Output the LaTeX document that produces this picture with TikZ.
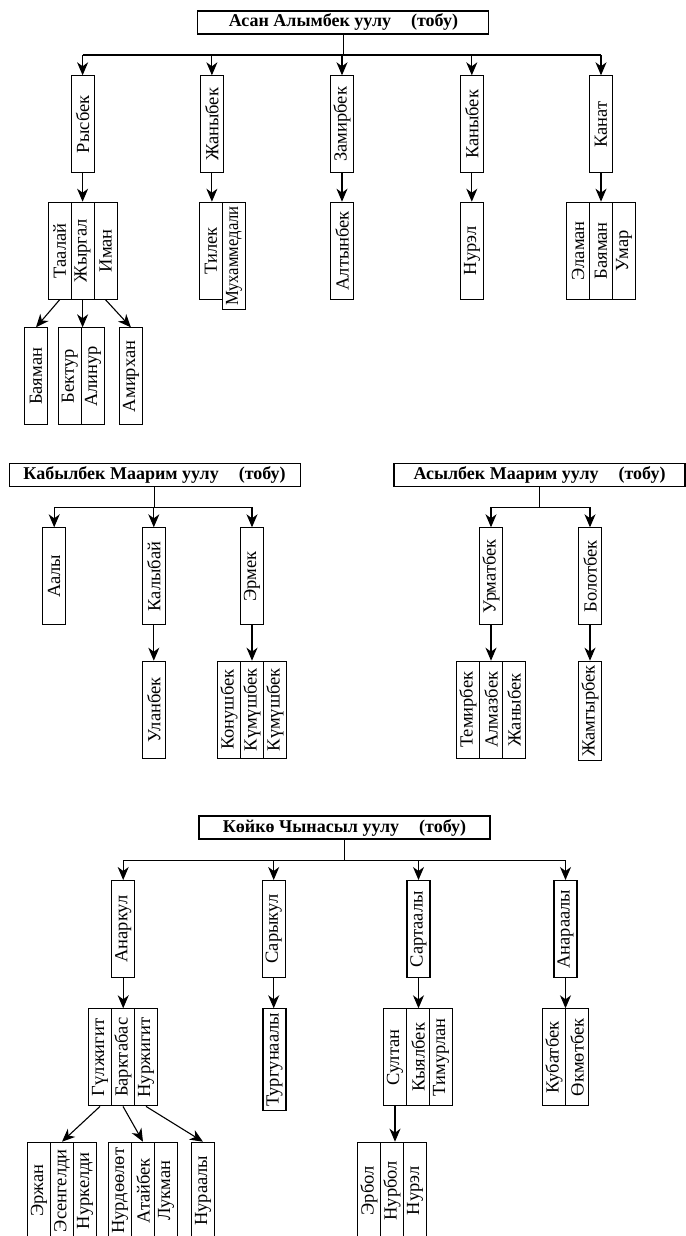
\documentclass[tikz,border=0pt]{standalone}
\usepackage{fontspec}
\setmainfont{Liberation Serif}
\usetikzlibrary{arrows.meta}
\tikzset{
  hdr/.style={draw, line width=1.1pt, minimum width=291pt, minimum height=23pt, inner sep=0pt, font=\bfseries\fontsize{18}{18}\selectfont},
  vb/.style={draw, line width=1.1pt, rotate=90, anchor=east, minimum width=97pt, minimum height=23pt, inner xsep=4pt, inner ysep=0pt, font=\fontsize{18.5}{18.5}\selectfont},
  arr/.style={line width=1.1pt, -{Stealth[length=13pt,width=11pt,inset=4pt]}},
  ln/.style={line width=1.1pt}
}
\begin{document}
\begin{tikzpicture}[x=1pt,y=-1pt]
\useasboundingbox (0,0) rectangle (685,1236);
% ---------- Section 1 ----------
\node[hdr] (h1) at (343.4,22.5) {Асан Алымбек уулу\hspace{20pt}(тобу)};
\node[vb] (rysbek) at (82.6,75.3) {Рысбек};
\node[vb] (zhanybek) at (211.9,75.3) {Жаныбек};
\node[vb] (zamirbek) at (342,75.3) {Замирбек};
\node[vb] (kanybek) at (471.8,75.3) {Каныбек};
\node[vb] (kanat) at (601,75.3) {Канат};
\node[vb] (taalai) at (59.6,201.7) {Таалай};
\node[vb] (zhyrgal) at (82.6,201.7) {Жыргал};
\node[vb] (iman) at (105.6,201.7) {Иман};
\node[vb] (tilek) at (211,201.7) {Тилек};
\node[vb] (mukh) at (234,201.7) {\scalebox{0.9}[1]{Мухаммедали}};
\node[vb] (altynbek) at (342,201.7) {Алтынбек};
\node[vb] (nurel1) at (472,201.7) {Нурэл};
\node[vb] (elaman) at (578,201.7) {Эламан};
\node[vb] (bayaman2) at (601,201.7) {Баяман};
\node[vb] (umar) at (624,201.7) {Умар};
\node[vb] (bayaman) at (36,327.3) {Баяман};
\node[vb] (bektur) at (69.9,327.3) {Бектур};
\node[vb] (alinur) at (92.9,327.3) {Алинур};
\node[vb] (amirkhan) at (130.9,327.3) {Амирхан};
\draw[ln] (h1.south) -- ++(0,20.5) coordinate (j1);
\draw[ln] (j1 -| rysbek.east) -- (j1 -| kanat.east);
\foreach \n in {rysbek,zhanybek,zamirbek,kanybek,kanat}
  \draw[arr] (j1 -| \n.east) -- (\n.east);
\draw[arr] (rysbek.west) -- (rysbek.west |- zhyrgal.east);
\draw[arr] (zhanybek.west) -- (zhanybek.west |- tilek.east);
\draw[arr] (zamirbek.west) -- (zamirbek.west |- altynbek.east);
\draw[arr] (kanybek.west) -- (kanybek.west |- nurel1.east);
\draw[arr] (kanat.west) -- (kanat.west |- bayaman2.east);
\draw[arr] (taalai.west) -- (bayaman.east);
\draw[arr] (zhyrgal.west) -- (zhyrgal.west |- bektur.east);
\draw[arr] (iman.west) -- (amirkhan.east);
% ---------- Section 2 ----------
\node[hdr] (h2) at (154.6,474.7) {Кабылбек Маарим уулу\hspace{20pt}(тобу)};
\node[hdr] (h3) at (539.5,474.7) {Асылбек Маарим уулу\hspace{20pt}(тобу)};
\node[vb] (aaly) at (54.2,527.3) {Аалы};
\node[vb] (kalybai) at (153.8,527.3) {Калыбай};
\node[vb] (ermek) at (252,527.3) {Эрмек};
\node[vb] (ulanbek) at (153.8,660.7) {Уланбек};
\node[vb] (konushbek) at (229,660.7) {Конушбек};
\node[vb] (kumush1) at (252,660.7) {Күмүшбек};
\node[vb] (kumush2) at (275,660.7) {Күмүшбек};
\node[vb] (urmatbek) at (491,527.3) {Урматбек};
\node[vb] (bolotbek) at (590,527.3) {Болотбек};
\node[vb] (temirbek) at (468,660.7) {Темирбек};
\node[vb] (almazbek) at (491,660.7) {Алмазбек};
\node[vb] (zhanybek2) at (514,660.7) {Жаныбек};
\node[vb] (zhamgyrbek) at (590,660.7) {Жамгырбек};
\draw[ln] (h2.south) -- ++(0,20.7) coordinate (j2);
\draw[ln] (j2 -| aaly.east) -- (j2 -| ermek.east);
\foreach \n in {aaly,kalybai,ermek}
  \draw[arr] (j2 -| \n.east) -- (\n.east);
\draw[ln] (h3.south) -- ++(0,20.7) coordinate (j3);
\draw[ln] (j3 -| urmatbek.east) -- (j3 -| bolotbek.east);
\foreach \n in {urmatbek,bolotbek}
  \draw[arr] (j3 -| \n.east) -- (\n.east);
\draw[arr] (kalybai.west) -- (kalybai.west |- ulanbek.east);
\draw[arr] (ermek.west) -- (ermek.west |- kumush1.east);
\draw[arr] (urmatbek.west) -- (urmatbek.west |- almazbek.east);
\draw[arr] (bolotbek.west) -- (bolotbek.west |- zhamgyrbek.east);
% ---------- Section 3 ----------
\node[hdr] (h4) at (344.5,827.5) {Көйкө Чынасыл уулу\hspace{20pt}(тобу)};
\node[vb] (anarkul) at (123.2,880) {Анаркул};
\node[vb] (sarykul) at (273.7,880) {Сарыкул};
\node[vb] (sartaaly) at (418.5,880) {Сартаалы};
\node[vb] (anaraaly) at (565.5,880) {Анараалы};
\node[vb] (gulzhigit) at (100,1008.3) {Гүлжигит};
\node[vb] (barktabas) at (123,1008.3) {Барктабас};
\node[vb] (nurzhigit) at (146,1008.3) {Нуржигит};
\node[vb] (turgunaaly) at (274.5,1008.3) {Тургунаалы};
\node[vb] (sultan) at (395,1008.3) {Султан};
\node[vb] (kyyalbek) at (418,1008.3) {Кыялбек};
\node[vb] (timurlan) at (441,1008.3) {Тимурлан};
\node[vb] (kubatbek) at (554,1008.3) {Кубатбек};
\node[vb] (okmotbek) at (577,1008.3) {Өкмөтбек};
\node[vb] (erzhan) at (39,1141.7) {Эржан};
\node[vb] (esengeldi) at (62,1141.7) {Эсенгелди};
\node[vb] (nurkeldi) at (85,1141.7) {Нуркелди};
\node[vb] (nurdoolot) at (120,1141.7) {Нурдөөлөт};
\node[vb] (ataibek) at (143,1141.7) {Атайбек};
\node[vb] (lukman) at (166,1141.7) {Лукман};
\node[vb] (nuraaly) at (203,1141.7) {Нураалы};
\node[vb] (erbol) at (369,1141.7) {Эрбол};
\node[vb] (nurbol) at (392,1141.7) {Нурбол};
\node[vb] (nurel2) at (415,1141.7) {Нурэл};
\draw[ln] (h4.south) -- ++(0,21) coordinate (j4);
\draw[ln] (j4 -| anarkul.east) -- (j4 -| anaraaly.east);
\foreach \n in {anarkul,sarykul,sartaaly,anaraaly}
  \draw[arr] (j4 -| \n.east) -- (\n.east);
\draw[arr] (anarkul.west) -- (anarkul.west |- barktabas.east);
\draw[arr] (sarykul.west) -- (sarykul.west |- turgunaaly.east);
\draw[arr] (sartaaly.west) -- (sartaaly.west |- kyyalbek.east);
\draw[arr] (anaraaly.west) -- (anaraaly.west |- okmotbek.east);
\draw[arr] (gulzhigit.west) -- (esengeldi.east);
\draw[arr] (barktabas.west) -- (ataibek.east);
\draw[arr] (nurzhigit.west) -- (nuraaly.east);
\draw[arr] (sultan.west) -- (sultan.west |- nurbol.east);
\end{tikzpicture}
\end{document}
